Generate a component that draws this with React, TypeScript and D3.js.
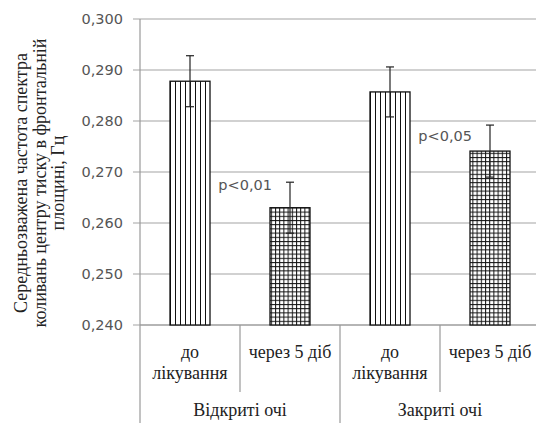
import React from 'react';
import * as d3 from 'd3';

const width = 536;
const height = 423;

// data
const groups = ["Відкриті очі", "Закриті очі"];
const subLabels = [["до", "лікування"], ["через 5 діб"]];
const barIds = ["open-before", "open-after", "closed-before", "closed-after"];
const means = [0.2878, 0.2630, 0.2857, 0.2741];
const errors = [0.0050, 0.0050, 0.0049, 0.0051];
const pLabels = ["", "p<0,01", "", "p<0,05"];
const pLabelAt = [0, 0.2664, 0, 0.2761];
const yTicks = [0.24, 0.25, 0.26, 0.27, 0.28, 0.29, 0.30];
const yTitle = ["Середньозважена частота спектра", "коливань центру тиску в фронтальній", "площині, Гц"];

const plot = {left: 140, right: 540, top: 19, bottom: 325};
const serif = "Liberation Serif";

const App = () => {
    const x = d3.scaleBand()
        .domain(barIds)
        .range([plot.left, plot.right])
        .paddingInner(0.6)
        .paddingOuter(0.3);
    const y = d3.scaleLinear()
        .domain([0.24, 0.30])
        .range([plot.bottom, plot.top]);
    const step = x.step();
    const fmt = (v: number) => d3.format(".3f")(v).replace(".", ",");
    const patternX = x(barIds[0]) as number;

    return (
        <svg width={width} height={height} style={{position: 'absolute', left: 0, top: 0, background: '#fff'}}>
            <defs>
                <pattern id="stripes" patternUnits="userSpaceOnUse" x={patternX} y={0} width={5} height={10}>
                    <rect width={5} height={10} fill="#fff"/>
                    <line x1={0.5} x2={0.5} y1={0} y2={10} stroke="#111" strokeWidth={1}/>
                </pattern>
                <pattern id="grid" patternUnits="userSpaceOnUse" x={patternX} y={plot.bottom} width={4.2} height={4.2}>
                    <rect width={4.2} height={4.2} fill="#fff"/>
                    <line x1={0.5} x2={0.5} y1={0} y2={4.2} stroke="#111" strokeWidth={1}/>
                    <line x1={0} x2={4.2} y1={0.5} y2={0.5} stroke="#111" strokeWidth={1}/>
                </pattern>
            </defs>

            {/* gridlines + ticks */}
            {yTicks.map(t => (
                <g key={t}>
                    <line x1={plot.left - 7} x2={plot.right} y1={y(t)} y2={y(t)} stroke="#a3a3a3" strokeWidth={1.2}/>
                    <text x={123} y={y(t) + 5} textAnchor="end" fontFamily="DejaVu Sans" fontSize={14.5} fill="#555">
                        {fmt(t)}
                    </text>
                </g>
            ))}

            {/* axes */}
            <line x1={plot.left} x2={plot.left} y1={plot.top} y2={height} stroke="#999" strokeWidth={1.2}/>
            <line x1={plot.left} x2={plot.right} y1={plot.bottom} y2={plot.bottom} stroke="#999" strokeWidth={1.2}/>
            {barIds.map((id, i) => {
                const xl = (x(id) as number) - step * 0.3 + step;
                const isGroupEdge = i % 2 === 1;
                return (
                    <line key={id} x1={xl} x2={xl} y1={plot.bottom} y2={isGroupEdge ? height : 392}
                          stroke="#999" strokeWidth={1.2}/>
                );
            })}

            {/* bars */}
            {barIds.map((id, i) => {
                const bx = x(id) as number;
                const cx = bx + x.bandwidth() / 2;
                return (
                    <g key={id}>
                        <rect x={bx} y={y(means[i])} width={x.bandwidth()} height={plot.bottom - y(means[i])}
                              fill={i % 2 === 0 ? "url(#stripes)" : "url(#grid)"} stroke="#111" strokeWidth={1.3}/>
                        <line x1={cx} x2={cx} y1={y(means[i] + errors[i])} y2={y(means[i] - errors[i])} stroke="#222" strokeWidth={1.2}/>
                        <line x1={cx - 4} x2={cx + 4} y1={y(means[i] + errors[i])} y2={y(means[i] + errors[i])} stroke="#222" strokeWidth={1.2}/>
                        <line x1={cx - 4} x2={cx + 4} y1={y(means[i] - errors[i])} y2={y(means[i] - errors[i])} stroke="#222" strokeWidth={1.2}/>
                        {pLabels[i] && (
                            <text x={bx + 2} y={y(pLabelAt[i])} textAnchor="end" fontFamily="DejaVu Sans" fontSize={14.5} fill="#555">
                                {pLabels[i]}
                            </text>
                        )}
                    </g>
                );
            })}

            {/* category labels */}
            {barIds.map((id, i) => {
                const cx = (x(id) as number) + x.bandwidth() / 2;
                const lines = subLabels[i % 2];
                return (
                    <text key={id} x={cx} y={358} textAnchor="middle" fontFamily={serif} fontSize={18} fill="#222">
                        {lines.map((l, j) => <tspan key={j} x={cx} dy={j === 0 ? 0 : 21}>{l}</tspan>)}
                    </text>
                );
            })}
            {groups.map((g, i) => {
                const cx = plot.left + step * (2 * i + 1);
                return (
                    <text key={g} x={cx} y={416} textAnchor="middle" fontFamily={serif} fontSize={18} fill="#222">{g}</text>
                );
            })}

            {/* y title */}
            {yTitle.map((t, i) => (
                <text key={t} transform={`translate(${27 + i * 18.5}, 183) rotate(-90)`} textAnchor="middle"
                      fontFamily={serif} fontSize={18} fill="#222">{t}</text>
            ))}
        </svg>
    );
};

export default App;
